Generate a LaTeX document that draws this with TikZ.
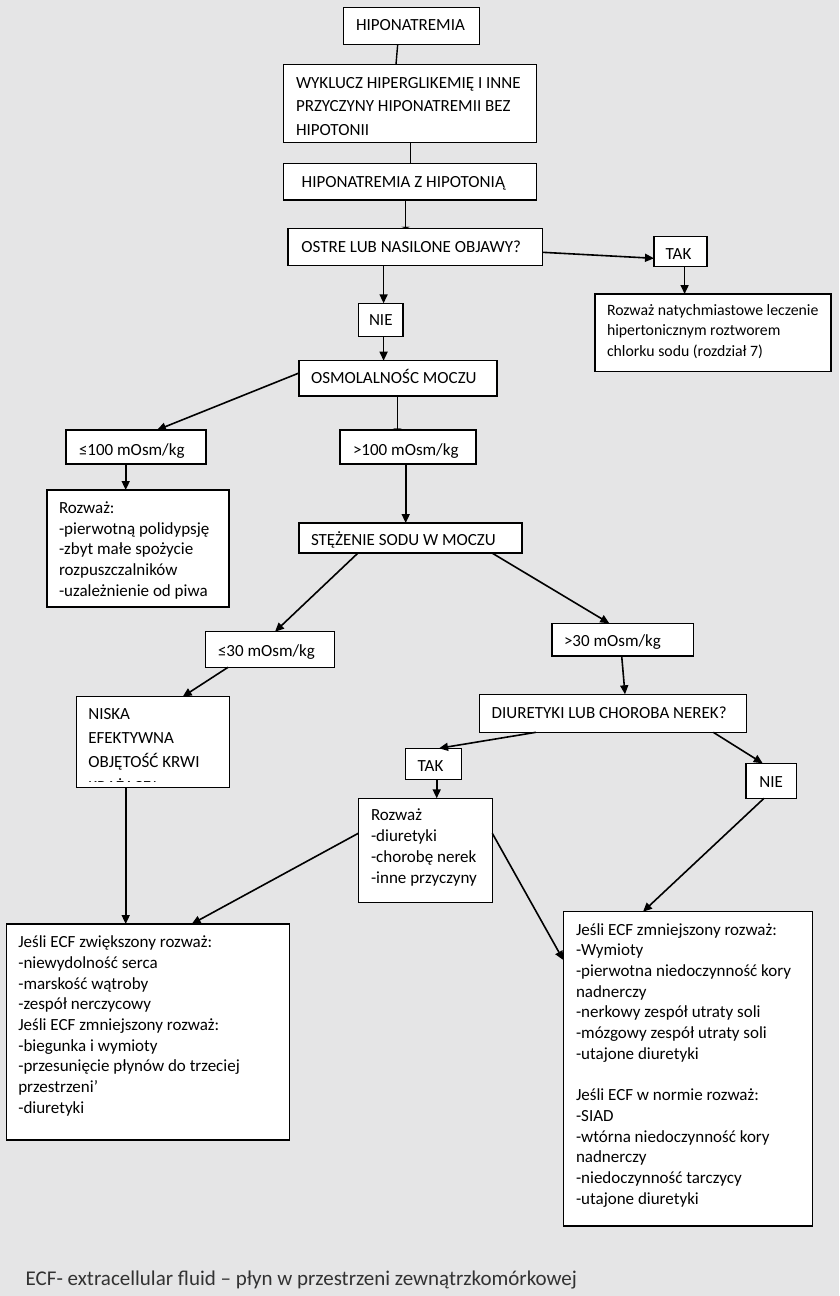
\documentclass[tikz,border=0pt]{standalone}
\usepackage{fontspec}
\setmainfont{Carlito}
\usetikzlibrary{arrows.meta,calc}
\definecolor{bg}{RGB}{229,229,230}
\definecolor{foot}{RGB}{50,50,50}
\newcommand\bx[5]{\node[box, minimum width=#4pt, minimum height=#5pt] (#1) at (#2,#3) {};}
\newcommand\lns[4]{\foreach \t [count=\i from 0] in {#4} {\node[txt] at (#1,{#2+\i*#3}) {\t};}}
\begin{document}
\begin{tikzpicture}[x=1pt,y=-1pt,
  box/.style={draw=black, line width=1.2pt, fill=white, inner sep=0pt, outer sep=0pt, anchor=north west},
  txt/.style={inner sep=0pt, outer sep=0pt, anchor=base west, font=\fontsize{17}{20}\selectfont, text=black},
  small/.style={font=\fontsize{15.8}{20}\selectfont},
  arr/.style={line width=1.6pt, -{Triangle[length=9pt,width=8pt]}},
  tick/.style={line width=1.4pt, -{Triangle[length=1.5pt,width=9pt]}},
  ln/.style={line width=1.4pt}]
\useasboundingbox (0,0) rectangle (839,1296);
\fill[bg] (0,0) rectangle (839,1296);

% boxes
\bx{hipo}{343.3}{7.3}{136}{37}
\bx{wyk}{283.3}{64.3}{253.4}{78.4}
\bx{hipoz}{283.3}{163.3}{253.4}{36.7}
\bx{ostre}{288}{228.3}{254.5}{37.4}
\bx{tak1}{654}{236.7}{53}{30}
\bx{natych}{595}{294}{236}{77.7}
\bx{nie1}{358.6}{303.3}{44.4}{33.4}
\bx{osmo}{299}{360.7}{198}{35.3}
\bx{le100}{66}{430}{140}{34}
\bx{gt100}{340}{430}{136}{34}
\bx{rozw1}{47}{490}{182}{117}
\bx{stez}{299}{523}{223}{30}
\bx{le30}{205.7}{631.7}{128.6}{35.6}
\bx{gt30}{552}{623.3}{141.3}{32.7}
\bx{niska}{76.7}{696.7}{152.6}{90.6}
\bx{diur}{479.3}{694.3}{267.4}{38}
\bx{tak2}{405.3}{748.3}{56.4}{31}
\bx{nie2}{746}{763.3}{50.7}{35}
\bx{rozw2}{358.3}{798.3}{134}{104}
\bx{ecfl}{6.7}{924}{282.6}{216}
\bx{ecfr}{563.3}{911.7}{249}{314.3}

% connectors
\draw[ln] ([shift={(54.4,0)}]hipo.south west) -- ([shift={(112.7,0)}]wyk.north west);
\draw[ln] ([shift={(127.4,0)}]wyk.south west) -- ([shift={(127.4,0)}]hipoz.north west);
\draw[tick] ([shift={(122.4,0)}]hipoz.south west) -- ([shift={(117.7,0)}]ostre.north west);
\draw[arr] ([shift={(0,24)}]ostre.north east) -- ([shift={(0,21.6)}]tak1.north west);
\draw[arr] ([shift={(30.6,0)}]tak1.south west) -- ([shift={(89.6,0)}]natych.north west);
\draw[arr] ([shift={(95.6,0)}]ostre.south west) -- ([shift={(25,0)}]nie1.north west);
\draw[arr] ([shift={(25,0)}]nie1.south west) -- ([shift={(84.6,0)}]osmo.north west);
\draw[arr] ([shift={(0,12.3)}]osmo.north west) -- ([shift={(91,0)}]le100.north west);
\draw[tick] ([shift={(98.3,0)}]osmo.south west) -- ([shift={(57.3,0)}]gt100.north west);
\draw[arr] ([shift={(59.7,0)}]le100.south west) -- ([shift={(78.7,0)}]rozw1.north west);
\draw[arr] ([shift={(65.7,0)}]gt100.south west) -- ([shift={(106.7,0)}]stez.north west);
\draw[arr] ([shift={(59,0)}]stez.south west) -- ([shift={(69.3,0)}]le30.north west);
\draw[arr] ([shift={(193,0)}]stez.south west) -- ([shift={(57.3,0)}]gt30.north west);
\draw[arr] ([shift={(22.3,0)}]le30.south west) -- ([shift={(106,0)}]niska.north west);
\draw[arr] ([shift={(49,0)}]niska.south west) -- ([shift={(119,0)}]ecfl.north west);
\draw[arr] ([shift={(69.7,0)}]gt30.south west) -- ([shift={(145.7,0)}]diur.north west);
\draw[arr] ([shift={(56.7,0)}]diur.south west) -- ([shift={(33.7,0)}]tak2.north west);
\draw[arr] ([shift={(234,0)}]diur.south west) -- ([shift={(16.7,0)}]nie2.north west);
\draw[arr] ([shift={(31.4,0)}]tak2.south west) -- ([shift={(78.4,0)}]rozw2.north west);
\draw[arr] ([shift={(0,35)}]rozw2.north west) -- ([shift={(185,0)}]ecfl.north west);
\draw[arr] ([shift={(0,35)}]rozw2.north east) -- ([shift={(0,48.3)}]ecfr.north west);
\draw[arr] ([shift={(18,0)}]nie2.south west) -- ([shift={(79.7,0)}]ecfr.north west);

% texts
\lns{356}{30}{20}{{HIPONATREMIA}}
\lns{296}{88.3}{23.5}{{WYKLUCZ HIPERGLIKEMIĘ I INNE},{PRZYCZYNY HIPONATREMII BEZ},{HIPOTONII}}
\lns{301.7}{187.7}{20}{{HIPONATREMIA Z HIPOTONIĄ}}
\lns{301.4}{252.3}{20}{{OSTRE LUB NASILONE OBJAWY?}}
\lns{665.7}{259}{20}{{TAK}}
\node[txt, small] (nat1) at (607,315) {Rozważ natychmiastowe leczenie};
\node[txt, small] (nat2) at (607,335.9) {hipertonicznym roztworem};
\node[txt, small] (nat3) at (607,356.8) {chlorku sodu (rozdział 7)};
\lns{369}{325}{20}{{NIE}}
\lns{311}{383}{20}{{OSMOLALNOŚC MOCZU}}
\lns{79}{455}{20}{{≤100 mOsm/kg}}
\lns{353}{455}{20}{{>100 mOsm/kg}}
\lns{59}{513.3}{20.7}{{Rozważ:},{-pierwotną polidypsję},{-zbyt małe spożycie},{rozpuszczalników},{-uzależnienie od piwa}}
\lns{311}{545}{20}{{STĘŻENIE SODU W MOCZU}}
\lns{218}{656.7}{20}{{≤30 mOsm/kg}}
\lns{564}{646.7}{20}{{>30 mOsm/kg}}
\lns{88.3}{719}{24}{{NISKA},{EFEKTYWNA},{OBJĘTOŚĆ KRWI}}
\begin{scope}
\clip (76.7,696.7) rectangle (229.3,781.6);
\node[txt] (niskaclip) at (88.3,792.2) {KRĄŻĄCEJ};
\end{scope}
\lns{491.7}{718.3}{20}{{DIURETYKI LUB CHOROBA NEREK?}}
\lns{417.7}{771.7}{20}{{TAK}}
\lns{759.3}{787.7}{20}{{NIE}}
\lns{371}{820.7}{20.9}{{Rozważ},{-diuretyki},{-chorobę nerek},{-inne przyczyny}}
\lns{18.3}{947.7}{20.7}{{Jeśli ECF zwiększony rozważ:},{-niewydolność serca},{-marskość wątroby},{-zespół nerczycowy},{Jeśli ECF zmniejszony rozważ:},{-biegunka i wymioty},{-przesunięcie płynów do trzeciej},{przestrzeni’},{-diuretyki}}
\lns{576}{935}{20.7}{{Jeśli ECF zmniejszony rozważ:},{-Wymioty},{-pierwotna niedoczynność kory},{nadnerczy},{-nerkowy zespół utraty soli},{-mózgowy zespół utraty soli},{-utajone diuretyki}}
\lns{576}{1100.6}{20.7}{{Jeśli ECF w normie rozważ:},{-SIAD},{-wtórna niedoczynność kory},{nadnerczy},{-niedoczynność tarczycy},{-utajone diuretyki}}

\node[txt, font=\fontsize{21}{25}\selectfont, text=foot] (footer) at (25.7,1285) {ECF- extracellular fluid – płyn w przestrzeni zewnątrzkomórkowej};
\end{tikzpicture}
\end{document}
